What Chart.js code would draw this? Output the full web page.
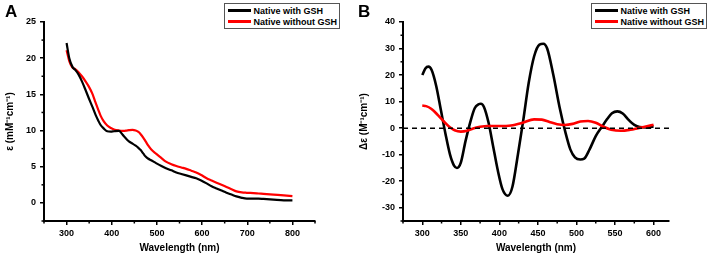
<!DOCTYPE html>
<html>
<head>
<meta charset="utf-8">
<script src="https://cdn.jsdelivr.net/npm/chart.js@4"></script>
<style>
  body { margin: 0; background: #fff; font-family: "Liberation Sans", Arial, sans-serif; }
  #wrap { position: relative; width: 709px; height: 256px; overflow: hidden; }
  .panel { position: absolute; top: 0; height: 256px; }
  .panel canvas { display: block; }
  .tag { position: absolute; top: 2px; font-weight: bold; font-size: 17px; color: #000; }
  .legend { position: absolute; top: 3px; border: 1px solid #555; background: #fff;
            font-weight: bold; font-size: 9px; color: #000; padding: 1px 2px 1px 3px; }
  .legend .row { display: flex; align-items: center; height: 11px; white-space: nowrap; }
  .legend .swatch { width: 23px; height: 2.5px; margin-right: 2px; }
</style>
</head>
<body>
<div id="wrap">
  <div class="panel" style="left:0;width:354px">
    <canvas id="chartA" width="354" height="256"></canvas>
    <div class="tag" style="left:5px">A</div>
    <div class="legend" id="legendA" style="right:14px"></div>
  </div>
  <div class="panel" style="left:354px;width:355px">
    <canvas id="chartB" width="355" height="256"></canvas>
    <div class="tag" style="left:4px">B</div>
    <div class="legend" id="legendB" style="right:2px"></div>
  </div>
</div>
<script>
// Panel A: absorption spectra
const wavelengthA = [300, 306, 313, 319, 326, 334, 342, 349, 357, 364, 370, 375, 382, 390, 398, 405, 416, 422, 427, 433, 438, 446, 453, 459, 464, 470, 475, 481, 487, 498, 510, 520, 532, 543, 554, 565, 576, 587, 598, 610, 621, 632, 643, 654, 665, 676, 688, 699, 714, 725, 736, 758, 781, 800];
const absWithGSH = [22.1, 20.0, 18.8, 18.4, 17.8, 16.8, 15.6, 14.5, 13.3, 12.2, 11.4, 10.8, 10.3, 9.9, 9.85, 9.9, 9.95, 9.6, 9.2, 8.8, 8.5, 8.2, 7.9, 7.6, 7.3, 6.8, 6.4, 6.1, 5.9, 5.5, 5.1, 4.8, 4.5, 4.2, 4.0, 3.8, 3.6, 3.4, 3.1, 2.7, 2.3, 2.0, 1.7, 1.4, 1.15, 0.9, 0.7, 0.6, 0.6, 0.6, 0.55, 0.45, 0.35, 0.35];
const absWithoutGSH = [21.1, 19.6, 18.7, 18.5, 18.1, 17.5, 16.8, 16.1, 15.1, 13.9, 12.9, 12.1, 11.3, 10.7, 10.35, 10.15, 10.0, 9.95, 9.95, 10.0, 10.05, 10.1, 10.0, 9.8, 9.5, 9.0, 8.5, 7.9, 7.4, 6.8, 6.2, 5.7, 5.35, 5.1, 4.9, 4.7, 4.45, 4.2, 3.85, 3.4, 3.1, 2.8, 2.5, 2.2, 1.9, 1.6, 1.45, 1.4, 1.35, 1.3, 1.25, 1.15, 1.05, 0.95];
const xTicksA = [300, 400, 500, 600, 700, 800];
const yTicksA = [0, 5, 10, 15, 20, 25];

// Panel B: CD spectra
const wavelengthB1 = [300, 304, 308, 312, 318, 324, 330, 336, 341, 345, 350, 356, 362, 368, 373, 376, 380, 386, 392, 398, 404, 411, 417, 424, 431, 438, 445, 452, 457, 462, 470, 478, 486, 492, 498, 505, 510, 517, 525, 533, 540, 546, 553, 560, 568, 575, 582, 590, 600];
const cdWithGSH = [20, 22.5, 23.2, 22, 16, 7, -2, -10, -14, -15, -13, -5, 2, 7.5, 9, 9.2, 8, 2, -7, -16, -23, -25.5, -22, -10, 3, 17, 27, 31.5, 31.8, 30, 20, 8, -2, -8, -11, -11.8, -11.5, -8, -3, 0.5, 3.5, 5.6, 6.3, 5.5, 3, 1.2, 0.4, 0.3, 0.6];
const wavelengthB2 = [300, 305, 312, 320, 328, 335, 342, 350, 358, 366, 375, 385, 400, 415, 430, 445, 455, 465, 475, 485, 495, 505, 515, 525, 535, 545, 558, 570, 580, 590, 600];
const cdWithoutGSH = [8.5, 8.3, 7.2, 5, 2.5, 0.5, -0.8, -1.3, -1, -0.1, 0.5, 0.8, 0.8, 1, 2, 3.3, 3.2, 2.3, 1.5, 1.2, 1.6, 2.5, 2.7, 2, 0.5, -0.6, -1, -0.6, 0, 0.6, 1.3];
const xTicksB = [300, 350, 400, 450, 500, 550, 600];
const yTicksB = [-30, -20, -10, 0, 10, 20, 30, 40];

const seriesLabels = ["Native with GSH", "Native without GSH"];
const seriesColors = ["#000000", "#ff0000"];

const FONT = "'Liberation Sans', Arial, sans-serif";

function toPoints(xs, ys) {
  return xs.map((x, i) => ({ x: x, y: ys[i] }));
}

// short ticks halfway between the labelled ones
const minorTicks = {
  id: "minorTicks",
  afterDraw(chart) {
    const ctx = chart.ctx;
    ctx.save();
    ctx.strokeStyle = "#000";
    ctx.lineWidth = 1.5;
    ["x", "y"].forEach((id) => {
      const scale = chart.scales[id];
      const vals = scale.ticks.map((t) => t.value);
      const step = vals[1] - vals[0];
      const minors = [vals[0] - step / 2].concat(vals.map((v) => v + step / 2));
      minors.forEach((v) => {
        if (v < scale.min || v > scale.max) return;
        const p = scale.getPixelForValue(v);
        ctx.beginPath();
        if (id === "x") {
          ctx.moveTo(p, scale.top);
          ctx.lineTo(p, scale.top + 2.5);
        } else {
          ctx.moveTo(scale.right, p);
          ctx.lineTo(scale.right - 2.5, p);
        }
        ctx.stroke();
      });
    });
    ctx.restore();
  },
};

function axis(min, max, ticks, title, size, isY) {
  return {
    type: "linear",
    min: min,
    max: max,
    afterBuildTicks: (s) => { s.ticks = ticks.map((v) => ({ value: v })); },
    afterFit: (s) => { if (isY) s.width = size; else s.height = size; },
    border: { display: true, color: "#000", width: 2 },
    grid: { drawOnChartArea: false, drawTicks: true, tickLength: 4, color: "#000", lineWidth: 1.5 },
    ticks: { color: "#000", font: { family: FONT, size: 9, weight: "bold" }, padding: isY ? 4 : 3, maxRotation: 0 },
    title: { display: true, text: title, color: "#000", font: { family: FONT, size: 10, weight: "bold" }, padding: isY ? { top: 4, bottom: 4 } : { top: 4, bottom: 2 } },
  };
}

function makeChart(canvasId, datasets, xAxis, yAxis, padRight) {
  return new Chart(document.getElementById(canvasId), {
    type: "line",
    data: { datasets: datasets },
    options: {
      responsive: false,
      animation: false,
      layout: { padding: { top: 22, right: padRight, left: 0, bottom: 0 } },
      elements: { point: { radius: 0 }, line: { cubicInterpolationMode: "monotone" } },
      plugins: { legend: { display: false }, tooltip: { enabled: false } },
      scales: { x: xAxis, y: yAxis },
    },
    plugins: [minorTicks],
  });
}

function buildLegend(el) {
  seriesLabels.forEach((label, i) => {
    const row = document.createElement("div");
    row.className = "row";
    const sw = document.createElement("span");
    sw.className = "swatch";
    sw.style.background = seriesColors[i];
    const txt = document.createElement("span");
    txt.textContent = label;
    row.appendChild(sw);
    row.appendChild(txt);
    el.appendChild(row);
  });
}

makeChart(
  "chartA",
  [
    { label: seriesLabels[0], data: toPoints(wavelengthA, absWithGSH), borderColor: seriesColors[0], borderWidth: 2.2 },
    { label: seriesLabels[1], data: toPoints(wavelengthA, absWithoutGSH), borderColor: seriesColors[1], borderWidth: 2.2 },
  ],
  axis(250, 850, xTicksA, "Wavelength (nm)", 35, false),
  axis(-2.5, 25, yTicksA, "ε (mM⁻¹cm⁻¹)", 44, true),
  39
);

makeChart(
  "chartB",
  [
    { label: "zero", data: toPoints([275, 620], [0, 0]), borderColor: "#000", borderWidth: 1.5, borderDash: [5, 4] },
    { label: seriesLabels[1], data: toPoints(wavelengthB2, cdWithoutGSH), borderColor: seriesColors[1], borderWidth: 2.6 },
    { label: seriesLabels[0], data: toPoints(wavelengthB1, cdWithGSH), borderColor: seriesColors[0], borderWidth: 2.6 },
  ],
  axis(275, 620, xTicksB, "Wavelength (nm)", 35, false),
  axis(-35, 40, yTicksB, "Δε (M⁻¹cm⁻¹)", 49, true),
  40
);

buildLegend(document.getElementById("legendA"));
buildLegend(document.getElementById("legendB"));
</script>
</body>
</html>
